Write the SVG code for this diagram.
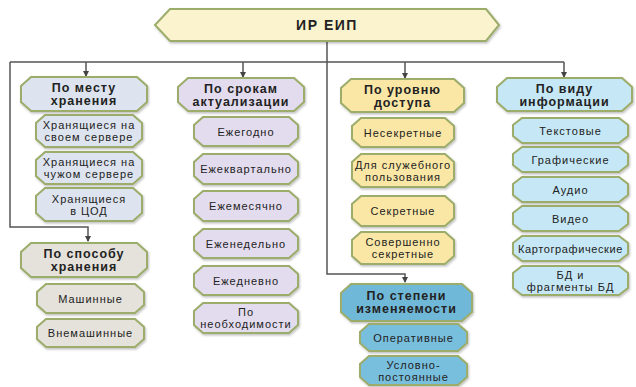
<svg xmlns="http://www.w3.org/2000/svg" width="636" height="387" viewBox="0 0 636 387">
<defs>
<marker id="arr" markerWidth="6" markerHeight="6" refX="5" refY="3" orient="auto" markerUnits="userSpaceOnUse">
<path d="M0,0 L6,3 L0,6 Z" fill="#444"/>
</marker>
<filter id="sh" x="-5%" y="-10%" width="115%" height="130%">
<feDropShadow dx="1" dy="1.5" stdDeviation="0.8" flood-color="#000" flood-opacity="0.25"/>
</filter>
</defs>
<style>
.b{stroke:#9cac6a;stroke-width:2;filter:url(#sh)}
.top{fill:#fbf3cd}
.c1{fill:#dde4ef}
.c2{fill:#e3dcef}
.c3{fill:#fae7a6}
.c4{fill:#c6e8f6}
.c5{fill:#e5e2dc}
.c6{fill:#70b8d8}
.c6s{fill:#78bedd}
text{font-family:"Liberation Sans",Arial,sans-serif;fill:#222;text-anchor:middle}
.t{font-size:11px;letter-spacing:1px}
.h{font-size:12.5px;font-weight:bold;letter-spacing:1px}
.tt{font-size:14px;font-weight:bold;letter-spacing:1.5px}
.ln{fill:none;stroke:#555;stroke-width:1.5}
</style>
<g id="connectors">
<path class="ln" d="M10,62 H564"/>
<path class="ln" d="M327,41 V274 H405 V282" marker-end="url(#arr)"/>
<path class="ln" d="M10,62 V227 H88 V241" marker-end="url(#arr)"/>
<path class="ln" d="M86,62 V76" marker-end="url(#arr)"/>
<path class="ln" d="M243,62 V77" marker-end="url(#arr)"/>
<path class="ln" d="M405,62 V78" marker-end="url(#arr)"/>
<path class="ln" d="M564,62 V77" marker-end="url(#arr)"/>
</g>
<g id="root"><path class="b top" d="M155,25 L170,9 H486 L499,25 L486,41 H170 Z"/><text class="tt" x="327" y="30">ИР ЕИП</text></g>

<g id="h1"><path class="b c1" d="M31,77 H137 L147,86 V102 L137,111 H31 L21,102 V86 Z"/><text class="h" x="84" y="92">По месту</text><text class="h" x="84" y="105">хранения</text></g>
<g id="s1a"><path class="b c1" d="M45,115 H133 L142,123 V139 L133,147 H45 L36,139 V123 Z"/><text class="t" x="89" y="129">Хранящиеся на</text><text class="t" x="89" y="141">своем сервере</text></g>
<g id="s1b"><path class="b c1" d="M45,152 H133 L142,160 V176 L133,184 H45 L36,176 V160 Z"/><text class="t" x="89" y="166">Хранящиеся на</text><text class="t" x="89" y="178">чужом сервере</text></g>
<g id="s1c"><path class="b c1" d="M45,188 H133 L142,196 V213 L133,221 H45 L36,213 V196 Z"/><text class="t" x="89" y="202.5">Хранящиеся</text><text class="t" x="89" y="214.5">в ЦОД</text></g>

<g id="h5"><path class="b c5" d="M31,243 H137 L147,252 V268 L137,277 H31 L21,268 V252 Z"/><text class="h" x="84" y="258">По способу</text><text class="h" x="84" y="271">хранения</text></g>
<g id="s5a"><path class="b c5" d="M46,284 H135 L144,292 V305 L135,313 H46 L37,305 V292 Z"/><text class="t" x="90.5" y="302.5">Машинные</text></g>
<g id="s5b"><path class="b c5" d="M46,319 H135 L144,327 V339 L135,347 H46 L37,339 V327 Z"/><text class="t" x="90.5" y="337">Внемашинные</text></g>

<g id="h2"><path class="b c2" d="M188,78 H294 L304,87 V102 L294,111 H188 L178,102 V87 Z"/><text class="h" x="241" y="92.5">По срокам</text><text class="h" x="241" y="105.5">актуализации</text></g>
<g id="s2a"><path class="b c2" d="M203,117 H289 L298,125 V138 L289,146 H203 L194,138 V125 Z"/><text class="t" x="246" y="135.5">Ежегодно</text></g>
<g id="s2b"><path class="b c2" d="M203,154 H289 L298,162 V176 L289,184 H203 L194,176 V162 Z"/><text class="t" x="246" y="173">Ежеквартально</text></g>
<g id="s2c"><path class="b c2" d="M203,191 H289 L298,199 V213 L289,221 H203 L194,213 V199 Z"/><text class="t" x="246" y="210">Ежемесячно</text></g>
<g id="s2d"><path class="b c2" d="M203,229 H289 L298,237 V250 L289,258 H203 L194,250 V237 Z"/><text class="t" x="246" y="247.5">Еженедельно</text></g>
<g id="s2e"><path class="b c2" d="M203,266 H289 L298,274 V287 L289,295 H203 L194,287 V274 Z"/><text class="t" x="246" y="284.5">Ежедневно</text></g>
<g id="s2f"><path class="b c2" d="M203,303 H289 L298,311 V325 L289,333 H203 L194,325 V311 Z"/><text class="t" x="246" y="316">По</text><text class="t" x="246" y="328">необходимости</text></g>

<g id="h3"><path class="b c3" d="M351,79 H454 L464,88 V103 L454,112 H351 L341,103 V88 Z"/><text class="h" x="402.5" y="93.5">По уровню</text><text class="h" x="402.5" y="106.5">доступа</text></g>
<g id="s3a"><path class="b c3" d="M361,118 H445 L454,126 V139 L445,147 H361 L352,139 V126 Z"/><text class="t" x="403" y="136.5">Несекретные</text></g>
<g id="s3b"><path class="b c3" d="M361,154 H445 L454,162 V179 L445,187 H361 L352,179 V162 Z"/><text class="t" x="403" y="168.5">Для служебного</text><text class="t" x="403" y="180.5">пользования</text></g>
<g id="s3c"><path class="b c3" d="M361,196 H445 L454,204 V218 L445,226 H361 L352,218 V204 Z"/><text class="t" x="403" y="215">Секретные</text></g>
<g id="s3d"><path class="b c3" d="M361,232 H445 L454,240 V256 L445,264 H361 L352,256 V240 Z"/><text class="t" x="403" y="246">Совершенно</text><text class="t" x="403" y="258">секретные</text></g>

<g id="h6"><path class="b c6" d="M351,284 H462 L472,293 V312 L462,321 H351 L341,312 V293 Z"/><text class="h" x="406.5" y="300">По степени</text><text class="h" x="406.5" y="313">изменяемости</text></g>
<g id="s6a"><path class="b c6s" d="M369,324 H458 L467,332 V343 L458,351 H369 L360,343 V332 Z"/><text class="t" x="413.5" y="341.5">Оперативные</text></g>
<g id="s6b"><path class="b c6s" d="M369,356 H458 L467,364 V377 L458,385 H369 L360,377 V364 Z"/><text class="t" x="413.5" y="368.5">Условно-</text><text class="t" x="413.5" y="380.5">постоянные</text></g>

<g id="h4"><path class="b c4" d="M507,78 H622 L632,87 V102 L622,111 H507 L497,102 V87 Z"/><text class="h" x="564.5" y="92.5">По виду</text><text class="h" x="564.5" y="105.5">информации</text></g>
<g id="s4a"><path class="b c4" d="M522,118 H619 L628,125 V136 L619,143 H522 L513,136 V125 Z"/><text class="t" x="570.5" y="134.5">Текстовые</text></g>
<g id="s4b"><path class="b c4" d="M522,147 H619 L628,154 V165 L619,172 H522 L513,165 V154 Z"/><text class="t" x="570.5" y="163.5">Графические</text></g>
<g id="s4c"><path class="b c4" d="M522,177 H619 L628,184 V195 L619,202 H522 L513,195 V184 Z"/><text class="t" x="570.5" y="193.5">Аудио</text></g>
<g id="s4d"><path class="b c4" d="M522,206 H619 L628,213 V224 L619,231 H522 L513,224 V213 Z"/><text class="t" x="570.5" y="222.5">Видео</text></g>
<g id="s4e"><path class="b c4" d="M522,236 H619 L628,243 V254 L619,261 H522 L513,254 V243 Z"/><text class="t" x="570.5" y="252.5" style="letter-spacing:0.6px">Картографические</text></g>
<g id="s4f"><path class="b c4" d="M522,266 H619 L628,273 V288 L619,295 H522 L513,288 V273 Z"/><text class="t" x="570.5" y="278.5">БД и</text><text class="t" x="570.5" y="290.5">фрагменты БД</text></g>
</svg>
